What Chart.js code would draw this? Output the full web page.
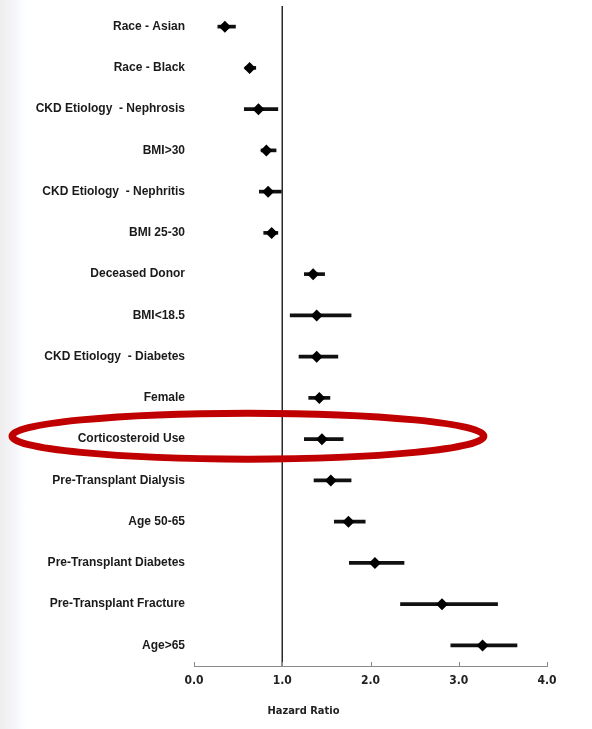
<!DOCTYPE html>
<html>
<head>
<meta charset="utf-8">
<script src="https://cdn.jsdelivr.net/npm/chart.js@4"></script>
<style>
  body { margin: 0; background: #fff; }
  #wrap {
    position: relative; width: 592px; height: 729px;
    background: linear-gradient(to right, #efedee 0px, #f5f6fa 16px, #fbfcfe 22px, #ffffff 26px);
  }
</style>
</head>
<body>
<div id="wrap"><canvas id="forest"></canvas></div>
<script>
"use strict";

var factors = ["Race - Asian", "Race - Black", "CKD Etiology  - Nephrosis", "BMI>30",
	"CKD Etiology  - Nephritis", "BMI 25-30", "Deceased Donor", "BMI<18.5",
	"CKD Etiology  - Diabetes", "Female", "Corticosteroid Use", "Pre-Transplant Dialysis",
	"Age 50-65", "Pre-Transplant Diabetes", "Pre-Transplant Fracture", "Age>65"];
var hazard = [0.35, 0.63, 0.73, 0.82, 0.84, 0.88, 1.35, 1.39, 1.39, 1.42, 1.45, 1.55, 1.75, 2.05, 2.81, 3.27];
var ciLow  = [0.27, 0.58, 0.57, 0.76, 0.74, 0.79, 1.25, 1.09, 1.19, 1.30, 1.25, 1.36, 1.59, 1.76, 2.34, 2.91];
var ciHigh = [0.47, 0.70, 0.95, 0.93, 0.99, 0.95, 1.48, 1.78, 1.63, 1.54, 1.69, 1.78, 1.94, 2.38, 3.44, 3.66];
var xTicks = [0, 1, 2, 3, 4];
var highlighted = "Corticosteroid Use";

var labelFont = "'Liberation Sans', Arial, sans-serif";
var axisFont = "'DejaVu Sans Condensed', 'DejaVu Sans', sans-serif";

var ciBars = [];
for (var i = 0; i < factors.length; i++) {
	ciBars.push([ciLow[i], ciHigh[i]]);
}
var points = [];
for (var i = 0; i < factors.length; i++) {
	points.push({ x: hazard[i], y: factors[i] });
}

// reference line at HR = 1, inward ticks, axis title and the red highlight ring
var extras = {
	id: 'extras',
	afterDatasetsDraw: function (chart) {
		var ctx = chart.ctx, a = chart.chartArea;
		var xs = chart.scales.x, ys = chart.scales.y;
		ctx.save();
		var x1 = xs.getPixelForValue(1);
		ctx.strokeStyle = '#2a2a2a';
		ctx.lineWidth = 1.5;
		ctx.beginPath();
		ctx.moveTo(x1, a.top);
		ctx.lineTo(x1, a.bottom);
		ctx.stroke();

		ctx.strokeStyle = '#8a8a8a';
		ctx.lineWidth = 1;
		for (var i = 0; i < xTicks.length; i++) {
			var px = Math.round(xs.getPixelForValue(xTicks[i])) + 0.5;
			ctx.beginPath();
			ctx.moveTo(px, a.bottom);
			ctx.lineTo(px, a.bottom - 4);
			ctx.stroke();
		}

		ctx.fillStyle = '#222';
		ctx.font = "bold 11px " + axisFont;
		ctx.textAlign = 'center';
		ctx.textBaseline = 'middle';
		ctx.fillText('Hazard Ratio', xs.getPixelForValue(1.24), a.bottom + 45);

		var cy = ys.getPixelForValue(factors.indexOf(highlighted)) - 3;
		var left = 12;
		var right = xs.getPixelForValue(3.33) - 4;
		ctx.strokeStyle = '#c00000';
		ctx.lineWidth = 7;
		ctx.beginPath();
		ctx.ellipse((left + right) / 2, cy, (right - left) / 2, 23, 0, 0, Math.PI * 2);
		ctx.stroke();
		ctx.restore();
	}
};

new Chart(document.getElementById('forest').getContext('2d'), {
	type: 'bar',
	data: {
		labels: factors,
		datasets: [{
			label: '95% CI',
			data: ciBars,
			backgroundColor: '#111',
			barThickness: 3,
			order: 2
		}, {
			type: 'scatter',
			label: 'Hazard Ratio',
			data: points,
			pointStyle: 'rectRot',
			pointRadius: 6,
			pointBackgroundColor: '#000',
			pointBorderColor: '#000',
			pointBorderWidth: 0,
			order: 1
		}]
	},
	options: {
		indexAxis: 'y',
		responsive: true,
		maintainAspectRatio: false,
		animation: false,
		layout: { padding: { top: 6, right: 45, left: 0, bottom: 0 } },
		plugins: {
			legend: { display: false },
			tooltip: { enabled: false }
		},
		scales: {
			x: {
				type: 'linear',
				min: 0,
				max: 4,
				afterBuildTicks: function (s) {
					s.ticks = xTicks.map(function (v) { return { value: v }; });
				},
				afterFit: function (s) { s.height = 63; },
				grid: { display: false, drawTicks: false },
				border: { display: true, color: '#8a8a8a', width: 1 },
				ticks: {
					padding: 8,
					color: '#222',
					font: { family: axisFont, size: 12, weight: 'bold' },
					callback: function (v) { return Number(v).toFixed(1); }
				}
			},
			y: {
				type: 'category',
				offset: true,
				afterFit: function (s) {
					s.width = 194;
					s.paddingTop = 0;
					s.paddingBottom = 0;
				},
				grid: { display: false, drawTicks: false },
				border: { display: false },
				ticks: {
					padding: 9,
					color: '#1a1a1a',
					font: { family: labelFont, size: 12, weight: 'bold' }
				}
			}
		}
	},
	plugins: [extras]
});
</script>
</body>
</html>
